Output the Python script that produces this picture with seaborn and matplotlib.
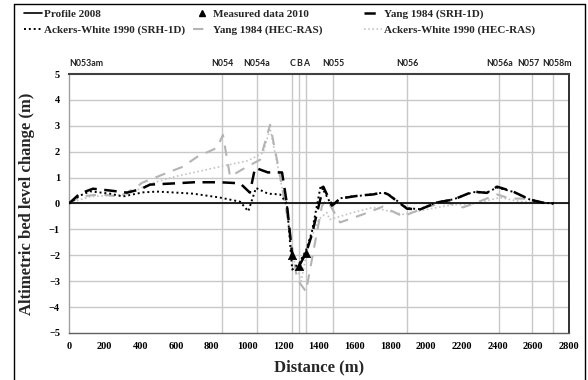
import matplotlib
matplotlib.use("Agg")
import matplotlib.pyplot as plt
import seaborn as sns
import numpy as np
import pandas as pd
from matplotlib.lines import Line2D
import matplotlib.transforms as mtransforms

# ---------------- data ----------------
stations = ["N053am", "N054", "N054a", "C", "B", "A", "N055", "N056", "N056a", "N057", "N058m"]
station_x = [0, 858, 1053, 1250, 1290, 1328, 1480, 1895, 2410, 2595, 2713]

profile_x = [0, 858, 1053, 1250, 1290, 1328, 1480, 1895, 2410, 2595, 2713, 2800]
profile_y = [0, 0, 0, 0, 0, 0, 0, 0, 0, 0, 0, 0]

measured_x = [1250, 1290, 1328]
measured_y = [-2.0, -2.4, -1.9]

yang_srh_x = [0, 60, 134, 230, 325, 400, 454, 600, 700, 845, 958, 1013, 1042, 1114, 1193, 1220,
              1250, 1290, 1328, 1360, 1424, 1473, 1518, 1590, 1630, 1703, 1760, 1787, 1893, 1966,
              2060, 2152, 2262, 2340, 2397, 2487, 2582, 2655, 2713]
yang_srh_y = [0, 0.38, 0.57, 0.5, 0.42, 0.55, 0.73, 0.78, 0.82, 0.82, 0.78, 0.42, 1.38, 1.2, 1.2, 0.0,
              -2.0, -2.4, -1.9, -1.2, 0.65, -0.08, 0.19, 0.27, 0.31, 0.35, 0.43, 0.35, -0.2, -0.23,
              0.04, 0.15, 0.46, 0.41, 0.65, 0.46, 0.15, 0.03, 0.0]

ackers_srh_x = [0, 60, 118, 230, 302, 414, 493, 600, 695, 845, 958, 1004, 1047, 1114, 1182, 1220,
                1250, 1290, 1328, 1360, 1410, 1473, 1518, 1590, 1630, 1703, 1760, 1787, 1893, 1966,
                2060, 2152, 2262, 2340, 2397, 2487, 2582, 2655, 2713]
ackers_srh_y = [0, 0.3, 0.47, 0.38, 0.27, 0.43, 0.46, 0.42, 0.38, 0.23, 0.07, -0.3, 0.6, 0.38, 0.35, 0.0,
                -2.55, -2.3, -1.8, -1.1, 0.7, -0.1, 0.2, 0.28, 0.3, 0.36, 0.42, 0.36, -0.18, -0.22,
                0.05, 0.16, 0.44, 0.42, 0.62, 0.45, 0.15, 0.03, 0.0]

yang_hec_x = [0, 62, 174, 286, 381, 409, 566, 638, 717, 829, 862, 902, 997, 1070, 1126, 1170, 1220,
              1277, 1327, 1378, 1417, 1444, 1518, 1646, 1758, 1870, 2004, 2116, 2206, 2284, 2397,
              2470, 2543, 2638, 2713]
yang_hec_y = [0, 0.27, 0.35, 0.27, 0.65, 0.8, 1.23, 1.42, 1.8, 2.15, 2.65, 1.04, 1.42, 1.69, 3.04, 1.5, -0.4,
              -2.92, -3.4, -1.5, -0.08, 0.15, -0.73, -0.42, -0.12, -0.5, -0.12, 0.03, -0.15, 0.04, 0.35,
              0.19, 0.19, 0.03, 0.0]

ackers_hec_x = [0, 118, 325, 470, 600, 800, 1000, 1087, 1126, 1170, 1220, 1260, 1300, 1340, 1400,
                1444, 1460, 1590, 1703, 1870, 2004, 2152, 2245, 2415, 2525, 2638, 2713]
ackers_hec_y = [0, 0.27, 0.35, 0.8, 1.05, 1.35, 1.65, 1.95, 2.9, 1.4, -0.3, -2.2, -3.0, -1.6, -0.6,
                -0.35, -0.62, -0.35, -0.15, -0.42, -0.23, -0.04, -0.04, 0.23, 0.08, 0.03, 0.0]

# ---------------- plot ----------------
sns.set_style("white")
plt.rcParams["font.family"] = ["Liberation Serif", "DejaVu Serif"]

fig = plt.figure(figsize=(5.88, 3.80), dpi=100)
ax = fig.add_axes([69 / 588, 1 - 333 / 380, 500 / 588, 259 / 380])

grid_c = "#c8c8c8"
for v in range(-4, 5):
    ax.axhline(v, color=grid_c, lw=1.0, zorder=0)
for sx in station_x[1:]:
    ax.axvline(sx, color=grid_c, lw=1.0, zorder=0)

def draw(x, y, **kw):
    df = pd.DataFrame({"x": x, "y": y})
    sns.lineplot(data=df, x="x", y="y", ax=ax, sort=False, estimator=None, **kw)

draw(ackers_hec_x, ackers_hec_y, color="#c4c4c4", lw=1.2, linestyle=(0, (1, 1.5)), zorder=2)
draw(yang_hec_x, yang_hec_y, color="#b4b4b4", lw=1.5, linestyle=(0, (5, 4)), zorder=2)
draw(profile_x, profile_y, color="black", lw=1.2, zorder=3)
draw(ackers_srh_x, ackers_srh_y, color="black", lw=1.4, linestyle=(0, (1, 1.5)), zorder=4)
draw(yang_srh_x, yang_srh_y, color="black", lw=1.8, linestyle=(0, (5, 3)), zorder=4)
sns.scatterplot(x=measured_x, y=measured_y, ax=ax, marker="^", color="black", s=36,
                edgecolor="black", zorder=5)

ax.set_xlim(0, 2800)
ax.set_ylim(-5, 5)
ax.set_xticks(np.arange(0, 2801, 200))
ax.set_yticks(np.arange(-5, 6, 1))
ax.tick_params(axis="both", direction="out", length=3, width=0.8, colors="#404040",
               labelsize=7.5, labelcolor="black", pad=3.5)
for lbl in ax.get_xticklabels() + ax.get_yticklabels():
    lbl.set_fontweight("bold")

ax.spines["left"].set_color("#a0a0a0")
ax.spines["bottom"].set_color("#606060")
ax.spines["top"].set_color("#404040")
ax.spines["right"].set_color("#202020")
for s in ax.spines.values():
    s.set_linewidth(1.0)
ax.spines["top"].set_linewidth(1.5)
ax.spines["right"].set_linewidth(1.3)

ax.set_xlabel("Distance (m)", fontsize=12, fontweight="bold", labelpad=6)
ax.set_ylabel("Altimetric bed level change (m)", fontsize=12, fontweight="bold", labelpad=10)

# station labels (small pixel nudges where the reference offsets them)
label_dx = {"N057": -4, "N058m": 4}
trans = mtransforms.blended_transform_factory(ax.transData, ax.transAxes)
for name, sx in zip(stations, station_x):
    off = mtransforms.offset_copy(trans, fig=fig, x=label_dx.get(name, 0), y=0, units="dots")
    ax.text(sx, 1.025, name, transform=off, ha="left" if name == "N053am" else "center",
            va="bottom", fontsize=6.3, fontweight="bold", family=["Lato", "DejaVu Sans"],
            color="#202020")

# figure frame
for xs, ys in [([14 / 588, 14 / 588], [0, 1 - 4 / 380]),
               ([14 / 588, 585 / 588], [1 - 4 / 380, 1 - 4 / 380]),
               ([585 / 588, 585 / 588], [0, 1 - 4 / 380])]:
    fig.add_artist(Line2D(xs, ys, transform=fig.transFigure, color="black", lw=1.0))

# legends
h_profile = Line2D([], [], color="black", lw=1.2)
h_meas = Line2D([], [], color="black", marker="^", markersize=5, linestyle="none")
h_yang_srh = Line2D([], [], color="black", lw=1.8, linestyle=(0, (4.5, 3)))
h_ack_srh = Line2D([], [], color="black", lw=1.4, linestyle=(0, (1, 1.5)))
h_yang_hec = Line2D([], [], color="#b4b4b4", lw=1.5, linestyle=(0, (5, 4)))
h_ack_hec = Line2D([], [], color="#c4c4c4", lw=1.2, linestyle=(0, (1, 1.5)))

leg_kw = dict(frameon=False, prop={"weight": "bold", "size": 8},
              handlelength=1.6, handletextpad=0.2, labelspacing=0.55, borderpad=0,
              borderaxespad=0, loc="upper left")
fig.legend([h_profile, h_ack_srh], ["Profile 2008", "Ackers-White 1990 (SRH-1D)"],
           bbox_to_anchor=(24 / 588, 1 - 9 / 380), **leg_kw)
fig.legend([h_meas, h_yang_hec], ["Measured data 2010", "Yang 1984 (HEC-RAS)"],
           bbox_to_anchor=(193 / 588, 1 - 9 / 380), **leg_kw)
fig.legend([h_yang_srh, h_ack_hec], ["Yang 1984 (SRH-1D)", "Ackers-White 1990 (HEC-RAS)"],
           bbox_to_anchor=(364 / 588, 1 - 9 / 380), **leg_kw)

fig.savefig("out.png", dpi=100)
